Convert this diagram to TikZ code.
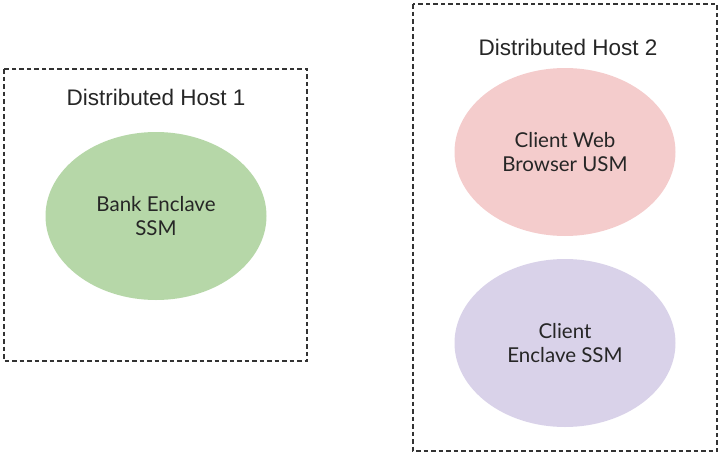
\documentclass[tikz,border=0pt]{standalone}
\usepackage{fontspec}
\setmainfont{Liberation Sans}
\newfontfamily\ellfont{Lato}
\usetikzlibrary{shapes.geometric}
\definecolor{hostline}{HTML}{333333}
\definecolor{greenfill}{HTML}{B6D7A8}
\definecolor{pinkfill}{HTML}{F4CCCC}
\definecolor{purplefill}{HTML}{D9D2E9}
\tikzset{
  hostbox/.style={draw=hostline, line width=1.1pt, dash pattern=on 4.5pt off 3pt},
  hosttitle/.style={font=\fontsize{22.5}{26}\selectfont, text=black!85, inner sep=0pt},
  ssm/.style={ellipse, draw=none, minimum width=221pt, minimum height=168pt, inner sep=0pt,
    align=center, font=\ellfont\fontsize{20.5}{23.5}\selectfont, text=black!85},
}
\begin{document}
\begin{tikzpicture}[x=1pt,y=-1pt]
\useasboundingbox (0,0) rectangle (718,453);
\draw[hostbox] (4,69) rectangle (307,361);
\draw[hostbox] (413,4) rectangle (717,451);
\node[hosttitle] (t1) at (156,97) {Distributed Host 1};
\node[hosttitle] (t2) at (568,47) {Distributed Host 2};
\node[ssm, fill=greenfill] (bank) at (156,216) {Bank Enclave\\SSM};
\node[ssm, fill=pinkfill] (web) at (565,152) {Client Web\\Browser USM};
\node[ssm, fill=purplefill] (cli) at (565,343) {Client\\Enclave SSM};
\end{tikzpicture}
\end{document}
